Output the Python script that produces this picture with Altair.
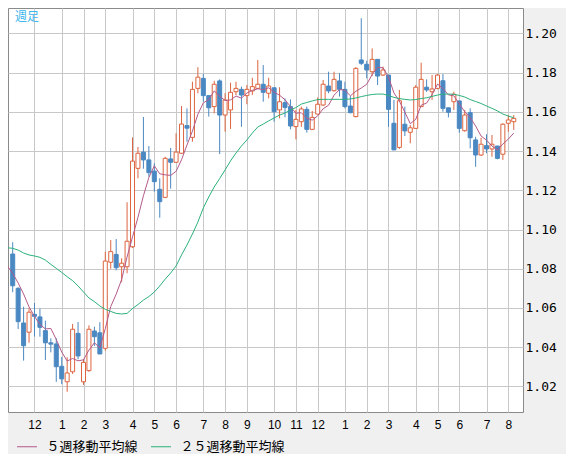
import altair as alt
import pandas as pd

# ---- data (weekly candles) ----
opens = [1.0875,1.0700,1.0523,1.0476,1.0567,1.0554,1.0484,1.0422,1.0416,1.0302,
1.0223,1.0274,1.0470,1.0223,1.0280,1.0482,1.0473,1.0394,1.0833,1.0873,
1.0810,1.0810,1.0912,1.1312,1.1395,1.1355,1.1298,1.1205,1.1164,1.1360,
1.1343,1.1389,1.1530,1.1470,1.1720,1.1771,1.1683,1.1627,1.1758,1.1584,
1.1610,1.1703,1.1715,1.1683,1.1707,1.1720,1.1741,1.1695,1.1723,1.1610,
1.1647,1.1627,1.1525,1.1550,1.1613,1.1511,1.1589,1.1635,1.1732,1.1708,
1.1758,1.1715,1.1630,1.1576,1.1865,1.1843,1.1805,1.1868,1.1788,1.1788,
1.1542,1.1419,1.1537,1.1496,1.1516,1.1627,1.1726,1.1703,1.1720,1.1759,
1.1621,1.1652,1.1656,1.1504,1.1596,1.1457,1.1380,1.1428,1.1411,1.1426,
1.1384,1.1542,1.1550]
highs = [1.0935,1.0705,1.0606,1.0598,1.0625,1.0596,1.0535,1.0445,1.0445,1.0350,
1.0348,1.0518,1.0528,1.0339,1.0511,1.0504,1.0527,1.0887,1.0946,1.0951,
1.0853,1.1139,1.1470,1.1421,1.1574,1.1426,1.1338,1.1261,1.1371,1.1416,
1.1491,1.1630,1.1618,1.1754,1.1828,1.1793,1.1685,1.1759,1.1766,1.1695,
1.1749,1.1754,1.1729,1.1737,1.1774,1.1865,1.1839,1.1774,1.1725,1.1726,
1.1669,1.1664,1.1610,1.1627,1.1627,1.1605,1.1674,1.1763,1.1805,1.1805,
1.1797,1.1754,1.1681,1.1828,1.2078,1.1861,1.1924,1.1868,1.1831,1.1788,
1.1661,1.1712,1.1627,1.1533,1.1737,1.1851,1.1766,1.1788,1.1793,1.1793,
1.1621,1.1703,1.1656,1.1610,1.1618,1.1473,1.1468,1.1486,1.1482,1.1426,
1.1542,1.1584,1.1584]
lows = [1.0680,1.0492,1.0331,1.0422,1.0454,1.0453,1.0334,1.0373,1.0223,1.0211,
1.0172,1.0263,1.0338,1.0207,1.0274,1.0406,1.0365,1.0382,1.0800,1.0792,
1.0731,1.0777,1.0905,1.1261,1.1310,1.1269,1.1193,1.1060,1.1160,1.1208,
1.1340,1.1385,1.1448,1.1448,1.1695,1.1652,1.1576,1.1593,1.1385,1.1499,
1.1513,1.1686,1.1524,1.1639,1.1686,1.1717,1.1652,1.1669,1.1550,1.1567,
1.1572,1.1511,1.1460,1.1524,1.1494,1.1508,1.1588,1.1630,1.1695,1.1703,
1.1678,1.1618,1.1593,1.1572,1.1839,1.1771,1.1783,1.1737,1.1783,1.1524,
1.1406,1.1411,1.1477,1.1440,1.1516,1.1627,1.1702,1.1661,1.1715,1.1601,
1.1572,1.1610,1.1494,1.1499,1.1414,1.1320,1.1375,1.1389,1.1371,1.1358,
1.1355,1.1499,1.1508]
closes = [1.0713,1.0530,1.0407,1.0578,1.0557,1.0501,1.0422,1.0415,1.0300,1.0238,
1.0268,1.0491,1.0355,1.0322,1.0491,1.0453,1.0365,1.0839,1.0887,1.0805,
1.0828,1.0940,1.1349,1.1389,1.1355,1.1290,1.1244,1.1142,1.1363,1.1343,
1.1395,1.1538,1.1517,1.1715,1.1777,1.1683,1.1621,1.1741,1.1584,1.1661,
1.1700,1.1720,1.1686,1.1715,1.1729,1.1741,1.1700,1.1732,1.1601,1.1652,
1.1623,1.1528,1.1562,1.1615,1.1511,1.1572,1.1639,1.1741,1.1707,1.1766,
1.1715,1.1627,1.1596,1.1822,1.1848,1.1814,1.1868,1.1783,1.1814,1.1613,
1.1406,1.1657,1.1503,1.1519,1.1726,1.1766,1.1712,1.1717,1.1788,1.1618,
1.1598,1.1690,1.1516,1.1584,1.1468,1.1380,1.1435,1.1411,1.1435,1.1363,
1.1537,1.1559,1.1567]

# moving averages as drawn (week index -1 .. 92)
ma5 = [1.0814,1.0776,1.0727,1.0671,1.0605,
1.0557,1.0515,1.0493,1.0495,1.0439,1.0375,1.0329,1.0342,1.0330,1.0335,
1.0385,1.0422,1.0397,1.0494,1.0607,1.0670,1.0745,1.0860,1.0962,1.1062,
1.1172,1.1265,1.1325,1.1284,1.1279,1.1276,1.1297,1.1356,1.1431,1.1502,
1.1588,1.1646,1.1663,1.1707,1.1681,1.1658,1.1661,1.1681,1.1670,1.1696,
1.1710,1.1718,1.1714,1.1723,1.1701,1.1685,1.1662,1.1627,1.1593,1.1596,
1.1568,1.1558,1.1580,1.1616,1.1634,1.1685,1.1714,1.1711,1.1682,1.1705,
1.1722,1.1741,1.1790,1.1827,1.1825,1.1778,1.1697,1.1655,1.1599,1.1540,
1.1562,1.1634,1.1645,1.1688,1.1742,1.1720,1.1687,1.1682,1.1642,1.1601,
1.1571,1.1528,1.1477,1.1456,1.1426,1.1405,1.1436,1.1461,1.1492]
ma25 = [1.0907,
1.0904,1.0895,1.0880,1.0870,1.0865,1.0858,1.0844,1.0822,1.0802,1.0781,
1.0759,1.0739,1.0712,1.0681,1.0651,1.0632,1.0610,1.0593,1.0582,1.0572,
1.0569,1.0572,1.0597,1.0617,1.0640,1.0658,1.0681,1.0712,1.0747,1.0778,
1.0814,1.0870,1.0921,1.0977,1.1038,1.1110,1.1166,1.1217,1.1260,1.1304,
1.1350,1.1390,1.1426,1.1457,1.1492,1.1523,1.1538,1.1554,1.1569,1.1584,
1.1594,1.1610,1.1622,1.1640,1.1648,1.1656,1.1663,1.1664,1.1664,1.1664,
1.1664,1.1664,1.1666,1.1671,1.1678,1.1684,1.1689,1.1691,1.1691,1.1684,
1.1674,1.1668,1.1664,1.1661,1.1663,1.1668,1.1672,1.1679,1.1686,1.1691,
1.1691,1.1690,1.1684,1.1676,1.1663,1.1653,1.1643,1.1630,1.1618,1.1605,
1.1589,1.1579,1.1570]

month_idx = [4, 9, 13, 17, 22, 26, 30, 35, 39, 43, 48, 52, 56, 61, 65, 69, 74, 78, 82, 87, 91]
month_labels = ["12", "1", "2", "3", "4", "5", "6", "7", "8", "9", "10", "11",
                "12", "1", "2", "3", "4", "5", "6", "7", "8"]
y_ticks = [1.02, 1.04, 1.06, 1.08, 1.10, 1.12, 1.14, 1.16, 1.18, 1.20]
series_names = ["５週移動平均線", "２５週移動平均線"]

RED = "#dc643f"
BLUE = "#4a88c2"
PINK = "#b45a8a"
GREEN = "#2bb17a"
GRID = "#c8c8c8"

candles = pd.DataFrame({
    "idx": list(range(len(opens))),
    "open": opens, "high": highs, "low": lows, "close": closes,
})
candles["dir"] = ["up" if c >= o else "down" for o, c in zip(opens, closes)]

ma_idx = list(range(-1, len(ma5) - 1))
ma = pd.concat([
    pd.DataFrame({"idx": ma_idx, "value": ma5, "series": series_names[0]}),
    pd.DataFrame({"idx": ma_idx, "value": ma25, "series": series_names[1]}),
])

label_expr = ("[" + ",".join("'%s'" % s for s in month_labels) + "][indexof(["
              + ",".join(str(i) for i in month_idx) + "], datum.value)]")

xscale = alt.Scale(domain=[0.054, 92.78], nice=False, zero=False)
yscale = alt.Scale(domain=[1.00689, 1.21301], nice=False, zero=False)

x_axis = alt.Axis(values=month_idx, labelExpr=label_expr, grid=True, gridColor=GRID,
                  gridWidth=1, ticks=False, domain=False, labelPadding=7,
                  labelFont="Liberation Sans", labelFontSize=12, labelColor="#000000",
                  labelOverlap=False, labelFlush=False, labelSeparation=0, title=None)
y_axis = alt.Axis(orient="right", values=y_ticks, format=".2f", grid=True, gridColor=GRID,
                  gridWidth=1, ticks=False, domain=False, labelPadding=2,
                  labelFont="DejaVu Sans Mono", labelFontSize=13, labelColor="#000000",
                  labelOverlap=False, labelFlush=False, title=None)


def X(field):
    return alt.X(field, scale=xscale, axis=x_axis)


def Y(field):
    return alt.Y(field, scale=yscale, axis=y_axis)


base = alt.Chart(candles)

wick_down = base.transform_filter(alt.datum.dir == "down").mark_rule(
    color=BLUE, strokeWidth=1).encode(x=X("idx:Q"), y=Y("low:Q"), y2="high:Q")
wick_up = base.transform_filter(alt.datum.dir == "up").mark_rule(
    color=RED, strokeWidth=1).encode(x=X("idx:Q"), y=Y("low:Q"), y2="high:Q")
body_down = base.transform_filter(alt.datum.dir == "down").mark_bar(
    size=4, fill=BLUE, stroke=BLUE, strokeWidth=1).encode(
    x=X("idx:Q"), y=Y("open:Q"), y2="close:Q")
body_up = base.transform_filter(alt.datum.dir == "up").mark_bar(
    size=4, fill="white", stroke=RED, strokeWidth=1).encode(
    x=X("idx:Q"), y=Y("open:Q"), y2="close:Q")

lines = alt.Chart(ma).mark_line(strokeWidth=1, clip=True).encode(
    x=X("idx:Q"),
    y=Y("value:Q"),
    color=alt.Color("series:N",
                    scale=alt.Scale(domain=series_names, range=[PINK, GREEN]),
                    legend=alt.Legend(orient="none", legendX=8.5, legendY=428,
                                      direction="horizontal", title=None,
                                      symbolType="stroke", symbolSize=400,
                                      symbolStrokeWidth=1, labelFont="Noto Sans CJK JP",
                                      labelFontSize=13, labelColor="#000000",
                                      labelOffset=9, columnPadding=10, padding=0)),
    detail="series:N")

title_txt = alt.Chart(pd.DataFrame({"t": ["週足"]})).mark_text(
    align="left", baseline="middle", font="Noto Sans CJK JP", fontSize=12,
    color="#3cb4ec").encode(text="t:N", x=alt.value(7), y=alt.value(9))

chart = alt.layer(wick_down, wick_up, body_down, body_up, lines, title_txt).properties(
    width=515, height=404,
    padding={"left": 0, "top": 0, "right": 43, "bottom": 42},
    autosize=alt.AutoSizeParams(type="none"),
).configure(background="#f0f0f0").configure_view(
    fill="white", stroke="#8a8a8a", strokeWidth=1
).configure_axis(labelOverlap=False)

chart.save("out.html", embed_options={"renderer": "svg", "actions": False})
